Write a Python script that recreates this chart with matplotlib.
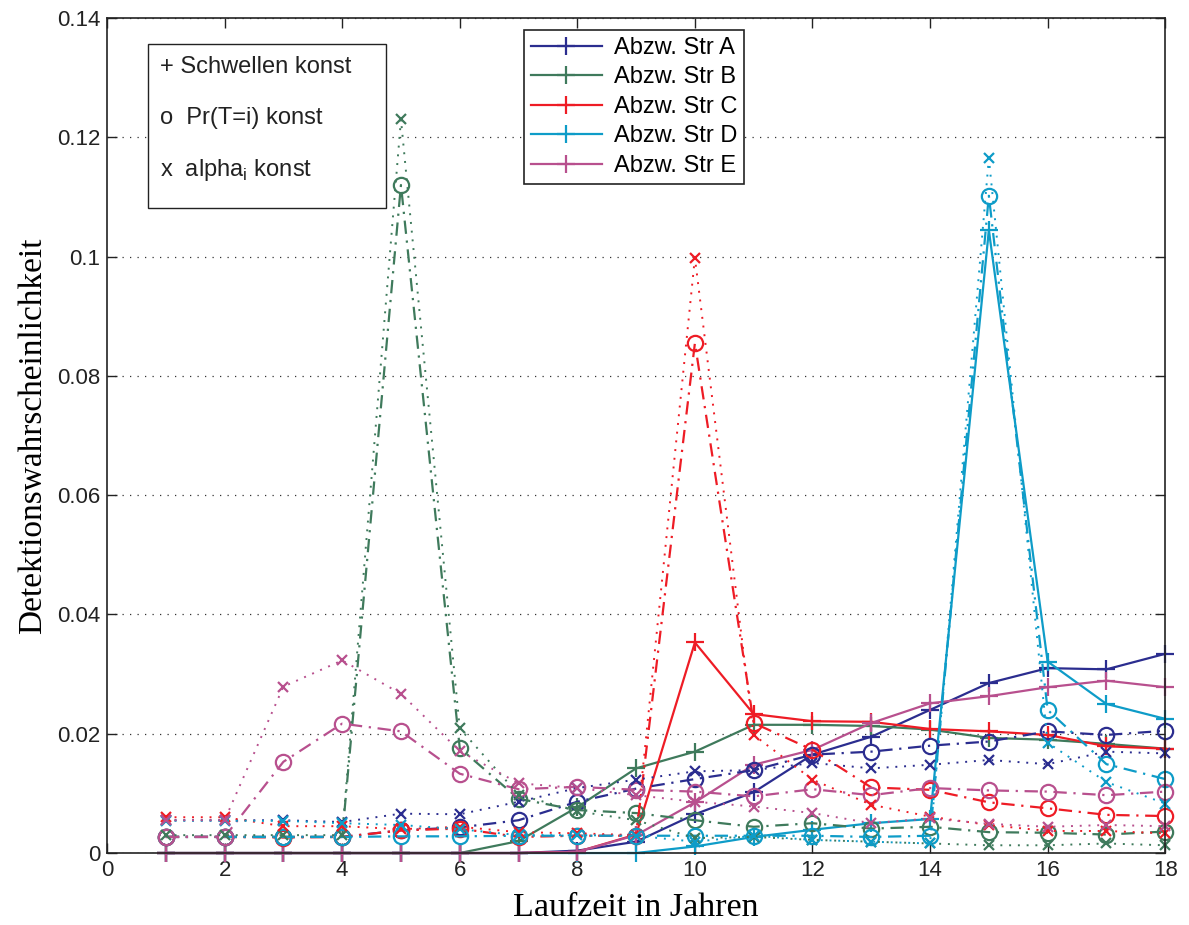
import numpy as np
import matplotlib
matplotlib.use("Agg")
import matplotlib.pyplot as plt
from matplotlib.patches import Rectangle
from matplotlib.ticker import FixedLocator, FuncFormatter

# Laufzeit in Jahren
jahre = np.arange(1, 19)

namen = ["Abzw. Str A", "Abzw. Str B", "Abzw. Str C", "Abzw. Str D", "Abzw. Str E"]
farben = ["#2b2d8f", "#3f7a5c", "#ee1c25", "#0e9cc8", "#b8508e"]

# + : Schwellen konst
schwellen_a = [0, 0, 0, 0, 0, 0, 0, 0.0004, 0.0019, 0.0065, 0.0102, 0.0165, 0.0195, 0.0240, 0.0285, 0.0310, 0.0308, 0.0334]
schwellen_b = [0, 0, 0, 0, 0, 0, 0.0020, 0.0077, 0.0142, 0.0170, 0.0215, 0.0215, 0.0213, 0.0207, 0.0193, 0.0190, 0.0183, 0.0175]
schwellen_c = [0, 0, 0, 0, 0, 0, 0, 0.0002, 0.0031, 0.0353, 0.0233, 0.0221, 0.0220, 0.0208, 0.0204, 0.0198, 0.0179, 0.0175]
schwellen_d = [0, 0, 0, 0, 0, 0, 0, 0, 0, 0.0011, 0.0027, 0.0039, 0.0050, 0.0057, 0.1044, 0.0321, 0.0250, 0.0225]
schwellen_e = [0, 0, 0, 0, 0, 0, 0, 0.0002, 0.0030, 0.0085, 0.0148, 0.0173, 0.0218, 0.0251, 0.0263, 0.0278, 0.0289, 0.0278]

# o : Pr(T=i) konst
pr_a = [0.0027, 0.0027, 0.0027, 0.0027, 0.0038, 0.0043, 0.0055, 0.0086, 0.0108, 0.0124, 0.0139, 0.0165, 0.0170, 0.0180, 0.0187, 0.0204, 0.0198, 0.0205]
pr_b = [0.0027, 0.0027, 0.0027, 0.0027, 0.1120, 0.0176, 0.0091, 0.0072, 0.0067, 0.0055, 0.0044, 0.0050, 0.0041, 0.0044, 0.0035, 0.0034, 0.0031, 0.0036]
pr_c = [0.0027, 0.0027, 0.0026, 0.0027, 0.0038, 0.0041, 0.0027, 0.0029, 0.0029, 0.0855, 0.0218, 0.0173, 0.0110, 0.0106, 0.0085, 0.0075, 0.0064, 0.0062]
pr_d = [0.0027, 0.0027, 0.0027, 0.0027, 0.0028, 0.0028, 0.0029, 0.0029, 0.0029, 0.0029, 0.0029, 0.0029, 0.0027, 0.0029, 0.1102, 0.0240, 0.0149, 0.0124]
pr_e = [0.0027, 0.0027, 0.0153, 0.0217, 0.0204, 0.0133, 0.0107, 0.0111, 0.0106, 0.0103, 0.0095, 0.0107, 0.0097, 0.0109, 0.0105, 0.0103, 0.0097, 0.0103]

# x : alpha_i konst
alpha_a = [0.0055, 0.0055, 0.0055, 0.0052, 0.0066, 0.0065, 0.0086, 0.0109, 0.0123, 0.0137, 0.0139, 0.0151, 0.0142, 0.0148, 0.0156, 0.0149, 0.0170, 0.0167]
alpha_b = [0.0030, 0.0030, 0.0030, 0.0030, 0.1230, 0.0209, 0.0098, 0.0070, 0.0055, 0.0025, 0.0027, 0.0022, 0.0019, 0.0016, 0.0013, 0.0013, 0.0016, 0.0013]
alpha_c = [0.0060, 0.0060, 0.0045, 0.0045, 0.0040, 0.0044, 0.0035, 0.0033, 0.0030, 0.0998, 0.0198, 0.0123, 0.0081, 0.0061, 0.0047, 0.0037, 0.0037, 0.0033]
alpha_d = [0.0054, 0.0054, 0.0054, 0.0050, 0.0047, 0.0040, 0.0030, 0.0030, 0.0029, 0.0019, 0.0029, 0.0022, 0.0019, 0.0016, 0.1165, 0.0185, 0.0119, 0.0083]
alpha_e = [0.0055, 0.0055, 0.0279, 0.0323, 0.0267, 0.0171, 0.0117, 0.0109, 0.0097, 0.0086, 0.0078, 0.0067, 0.0050, 0.0058, 0.0049, 0.0044, 0.0047, 0.0045]

schwellen = [schwellen_a, schwellen_b, schwellen_c, schwellen_d, schwellen_e]
pr = [pr_a, pr_b, pr_c, pr_d, pr_e]
alpha = [alpha_a, alpha_b, alpha_c, alpha_d, alpha_e]

y_ticks = [0, 0.02, 0.04, 0.06, 0.08, 0.1, 0.12, 0.14]

plt.rcParams["font.family"] = ["Liberation Sans", "DejaVu Sans"]
plt.rcParams["mathtext.fontset"] = "custom"
plt.rcParams["mathtext.rm"] = "Liberation Sans"

fig = plt.figure(figsize=(11.89, 9.25), dpi=100)
ax = fig.add_axes([0.09, 0.0778, 0.89, 0.9027])

# + Linien (durchgezogen) -> Legende
for i in range(5):
    ax.plot(jahre, schwellen[i], color=farben[i], lw=1.6, marker="+",
            ms=13, mew=1.6, label=namen[i], clip_on=False)

# o Linien (strich-punkt)
for i in range(5):
    ax.plot(jahre, pr[i], color=farben[i], lw=1.6, ls=(0, (6, 3, 1, 3)),
            marker="o", ms=11, mfc="none", mew=1.6, clip_on=False)

# x Linien (gepunktet)
for i in range(5):
    ax.plot(jahre, alpha[i], color=farben[i], lw=1.4, ls=(0, (1, 3.5)),
            marker="x", ms=7, mew=1.6, clip_on=False)

ax.set_xlim(0, 18)
ax.set_ylim(0, 0.14)
ax.set_xticks(range(0, 19, 2))
ax.yaxis.set_major_locator(FixedLocator(y_ticks))
ax.yaxis.set_major_formatter(FuncFormatter(lambda v, p: "%g" % v))
ax.tick_params(direction="in", top=True, right=True, length=7, width=1,
               labelsize=16, colors="#222222", pad=5)
ax.yaxis.grid(True, ls=(0, (1, 5)), color="#333333", lw=0.9)
for s in ax.spines.values():
    s.set_linewidth(1.2)
    s.set_color("#222222")

ax.set_xlabel("Laufzeit in Jahren", family="Liberation Serif", fontsize=24.5, labelpad=8)
ax.set_ylabel("Detektionswahrscheinlichkeit", family="Liberation Serif", fontsize=24, labelpad=6)

leg = ax.legend(loc="upper left", bbox_to_anchor=(0.394, 0.986), fontsize=17,
                handlelength=3.0, labelspacing=0.32, borderpad=0.3, borderaxespad=0,
                handletextpad=0.5, fancybox=False, framealpha=1)
leg.get_frame().set_edgecolor("#222222")
leg.get_frame().set_linewidth(1.2)

# Erklaerungsbox oben links
ax.add_patch(Rectangle((0.0388, 0.7725), 0.225, 0.1964, transform=ax.transAxes,
                       fill=True, facecolor="white", edgecolor="#222222", lw=1.0, zorder=5))
box_txt = ["+ Schwellen konst", "o  Pr(T=i) konst", r"x  alpha$_\mathregular{i}$ konst"]
box_y = [0.9413, 0.8802, 0.818]
for t, yy in zip(box_txt, box_y):
    ax.text(0.050, yy, t, transform=ax.transAxes, fontsize=17, va="center",
            ha="left", color="#222222", zorder=6)

fig.savefig("out.png", dpi=100)
